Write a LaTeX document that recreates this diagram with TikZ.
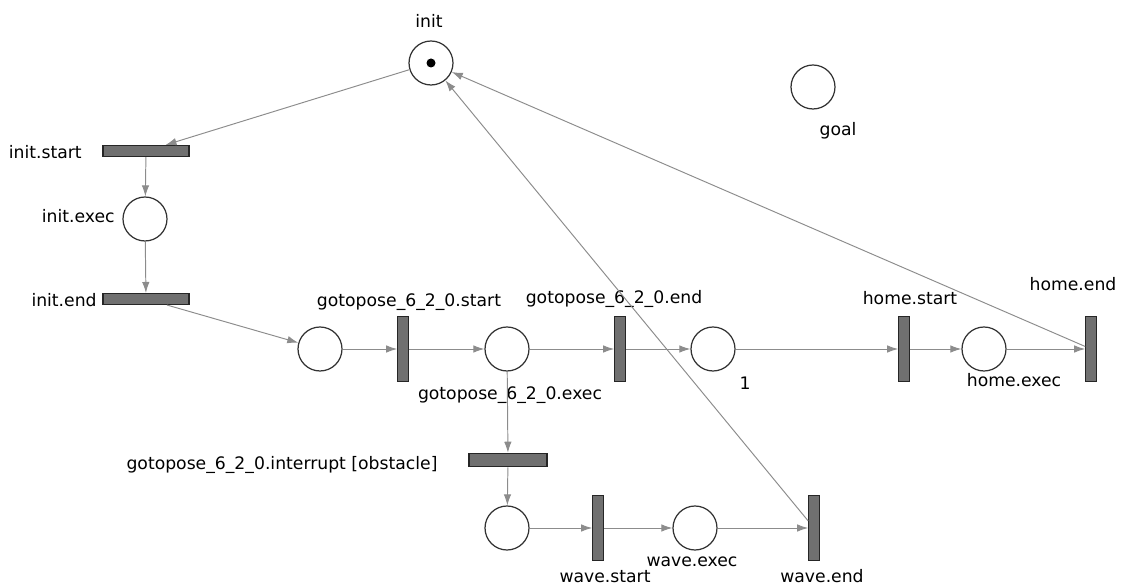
\documentclass[tikz,border=0pt]{standalone}
\usepackage{fontspec}
\setmainfont{DejaVu Sans}
\usetikzlibrary{arrows.meta}
\definecolor{arcgray}{RGB}{140,140,140}
\definecolor{barfill}{RGB}{112,112,112}
\tikzset{
  place/.style={circle, draw=black!80, line width=0.7pt, minimum size=0.88cm, inner sep=0pt},
  hbar/.style={rectangle, draw=black!85, fill=barfill, line width=0.6pt, minimum width=1.72cm, minimum height=0.22cm, inner sep=0pt},
  vbar/.style={rectangle, draw=black!85, fill=barfill, line width=0.6pt, minimum width=0.21cm, minimum height=1.3cm, inner sep=0pt},
  arc/.style={draw=arcgray, line width=0.55pt, -{Latex[length=2.2mm,width=1.5mm]}},
  lbl/.style={inner sep=0pt, font=\fontsize{9.8}{11}\selectfont}
}
\begin{document}
\begin{tikzpicture}[x=0.02cm,y=-0.02cm]
  \useasboundingbox (0,0) rectangle (1130,587);
  % places
  \node[place] (init) at (431,63) {};
  \fill (init.center) circle (4.5);
  \node[place] (goal) at (813,87) {};
  \node[place] (iexec) at (145,219) {};
  \node[place] (p0) at (320,349) {};
  \node[place] (gexec) at (507,349) {};
  \node[place] (p1) at (713,349) {};
  \node[place] (hexec) at (984,349) {};
  \node[place] (wp) at (507,528) {};
  \node[place] (wexec) at (695,528) {};
  % transitions
  \node[hbar] (istart) at (146,151) {};
  \node[hbar] (iend) at (146,299) {};
  \node[vbar] (gstart) at (403,349) {};
  \node[vbar] (gend) at (620,349) {};
  \node[hbar,minimum width=1.56cm,minimum height=0.27cm] (gint) at (508,460) {};
  \node[vbar] (hstart) at (904,349) {};
  \node[vbar] (hend) at (1091,349) {};
  \node[vbar] (wstart) at (598,528) {};
  \node[vbar] (wend) at (814,528) {};
  % labels
  \node[lbl] (l-init) at (429,21) {init};
  \node[lbl] (l-goal) at (838,131) {goal};
  \node[lbl,anchor=east] (l-istart) at (82,152) {init.start};
  \node[lbl,anchor=east] (l-iexec) at (115,216) {init.exec};
  \node[lbl,anchor=east] (l-iend) at (97,300) {init.end};
  \node[lbl] (l-gstart) at (409,302) {gotopose\_6\_2\_0.start};
  \node[lbl] (l-gend) at (614,299) {gotopose\_6\_2\_0.end};
  \node[lbl] (l-gexec) at (510,395) {gotopose\_6\_2\_0.exec};
  \node[lbl] (l-gint) at (282,465) {gotopose\_6\_2\_0.interrupt [obstacle]};
  \node[lbl] (l-p1) at (745,383) {1};
  \node[lbl] (l-hstart) at (910,298) {home.start};
  \node[lbl] (l-hexec) at (1014,380) {home.exec};
  \node[lbl] (l-hend) at (1073,284) {home.end};
  \node[lbl] (l-wstart) at (605,577) {wave.start};
  \node[lbl] (l-wexec) at (692,562) {wave.exec};
  \node[lbl] (l-wend) at (822,576) {wave.end};
  % arcs
  \draw[arc] (init) -- (istart);
  \draw[arc] (istart) -- (iexec);
  \draw[arc] (iexec) -- (iend);
  \draw[arc] (iend) -- (p0);
  \draw[arc] (p0) -- (gstart);
  \draw[arc] (gstart) -- (gexec);
  \draw[arc] (gexec) -- (gend);
  \draw[arc] (gend) -- (p1);
  \draw[arc] (p1) -- (hstart);
  \draw[arc] (hstart) -- (hexec);
  \draw[arc] (hexec) -- (hend);
  \draw[arc] (hend) -- (init);
  \draw[arc] (gexec) -- (gint);
  \draw[arc] (gint) -- (wp);
  \draw[arc] (wp) -- (wstart);
  \draw[arc] (wstart) -- (wexec);
  \draw[arc] (wexec) -- (wend);
  \draw[arc] (wend) -- (init);
\end{tikzpicture}
\end{document}
